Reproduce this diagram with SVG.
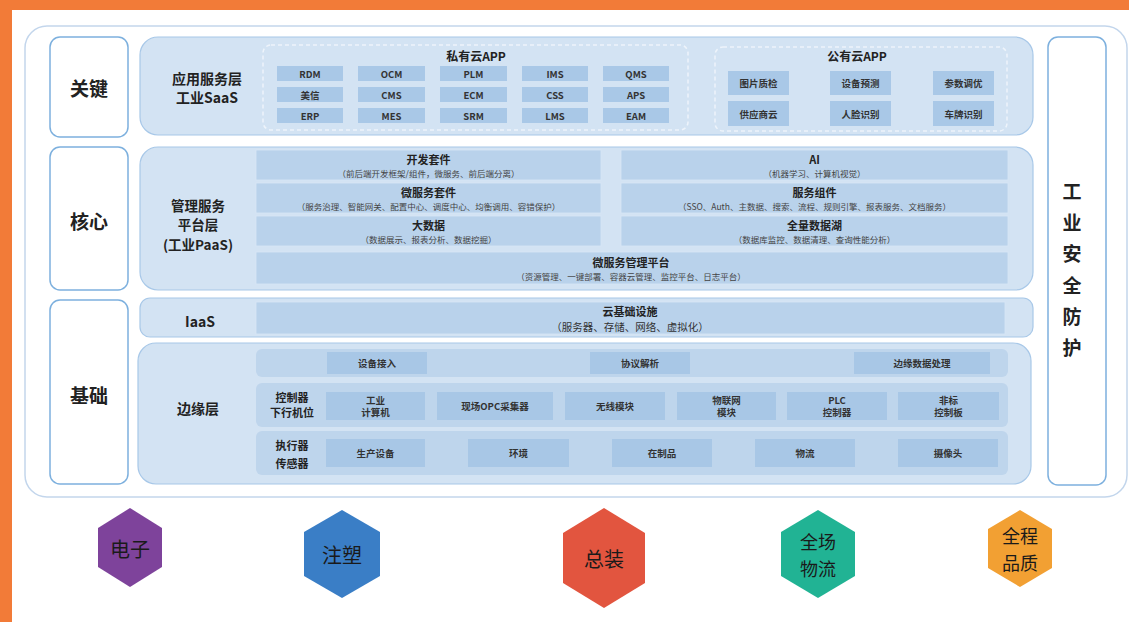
<svg xmlns="http://www.w3.org/2000/svg" width="1129" height="622" viewBox="0 0 1129 622">
<style>
text{font-family:"Noto Sans CJK SC","Noto Sans",sans-serif;text-anchor:middle;dominant-baseline:central;fill:#222}
.b{font-weight:bold}
.lbl{fill:#fff;stroke:#7db0de;stroke-width:1.5}
.panel{fill:#d3e3f3;stroke:#a8c8e8;stroke-width:1.2}
.cell{fill:#a9c8e7}
.ccell{fill:#b9d2eb;stroke:#d8e6f4;stroke-width:0.8}
.row{fill:#bed5ec}
.ecell{fill:#a8c7e6}
.t9{font-size:9.5px;font-weight:bold;fill:#333}
.t8{font-size:8.5px;fill:#444}
.tt{font-size:11px;font-weight:bold;fill:#222}
.big{font-size:19px;font-weight:bold}
.mid{font-size:14px;font-weight:bold}
.hx{font-size:20px;fill:#1a1a1a}
.hx2{font-size:18px;fill:#1a1a1a}
</style>
<rect x="0" y="0" width="1129" height="622" fill="#f27b38"/>
<rect x="12" y="10" width="1117" height="612" fill="#ffffff"/>
<rect x="25" y="26" width="1102" height="471" rx="22" fill="#fff" stroke="#c3d6ec" stroke-width="1.5"/>

<g id="label-guanjian"><rect class="lbl" x="50" y="37" width="78" height="100" rx="10"/><text class="big" x="89" y="87">关键</text></g>
<g id="label-hexin"><rect class="lbl" x="50" y="147" width="78" height="143" rx="10"/><text class="big" x="89" y="220">核心</text></g>
<g id="label-jichu"><rect class="lbl" x="50" y="300" width="78" height="184" rx="10"/><text class="big" x="89" y="394">基础</text></g>
<g id="label-security"><rect class="lbl" x="1048" y="37" width="58" height="448" rx="10"/>
<text class="big" x="1072" y="190">工</text><text class="big" x="1072" y="221">业</text><text class="big" x="1072" y="252">安</text><text class="big" x="1072" y="284">全</text><text class="big" x="1072" y="315">防</text><text class="big" x="1072" y="346">护</text></g>

<g id="saas">
<rect class="panel" x="140" y="37" width="893" height="98" rx="18"/>
<text class="mid" x="207" y="78">应用服务层</text><text class="mid" x="207" y="97">工业SaaS</text>
<rect x="263" y="45" width="425" height="85" rx="8" fill="none" stroke="#eef4fb" stroke-width="1.5" stroke-dasharray="4,3"/>
<text class="tt" style="font-size:12px" x="476" y="55">私有云APP</text>
<g>
<rect class="cell" x="277" y="66" width="66" height="15"/><text class="t9" x="310" y="73.5">RDM</text>
<rect class="cell" x="358" y="66" width="67" height="15"/><text class="t9" x="391.5" y="73.5">OCM</text>
<rect class="cell" x="440" y="66" width="67" height="15"/><text class="t9" x="473.5" y="73.5">PLM</text>
<rect class="cell" x="522" y="66" width="66" height="15"/><text class="t9" x="555" y="73.5">IMS</text>
<rect class="cell" x="603" y="66" width="66" height="15"/><text class="t9" x="636" y="73.5">QMS</text>
<rect class="cell" x="277" y="87" width="66" height="15"/><text class="t9" x="310" y="94.5">美信</text>
<rect class="cell" x="358" y="87" width="67" height="15"/><text class="t9" x="391.5" y="94.5">CMS</text>
<rect class="cell" x="440" y="87" width="67" height="15"/><text class="t9" x="473.5" y="94.5">ECM</text>
<rect class="cell" x="522" y="87" width="66" height="15"/><text class="t9" x="555" y="94.5">CSS</text>
<rect class="cell" x="603" y="87" width="66" height="15"/><text class="t9" x="636" y="94.5">APS</text>
<rect class="cell" x="277" y="108" width="66" height="15"/><text class="t9" x="310" y="115.5">ERP</text>
<rect class="cell" x="358" y="108" width="67" height="15"/><text class="t9" x="391.5" y="115.5">MES</text>
<rect class="cell" x="440" y="108" width="67" height="15"/><text class="t9" x="473.5" y="115.5">SRM</text>
<rect class="cell" x="522" y="108" width="66" height="15"/><text class="t9" x="555" y="115.5">LMS</text>
<rect class="cell" x="603" y="108" width="66" height="15"/><text class="t9" x="636" y="115.5">EAM</text>
</g>
<rect x="715" y="47" width="292" height="84" rx="8" fill="none" stroke="#eef4fb" stroke-width="1.5" stroke-dasharray="4,3"/>
<text class="tt" style="font-size:12px" x="857" y="55">公有云APP</text>
<rect class="cell" x="728" y="71" width="61" height="24"/><text class="t9" x="758.5" y="83">图片质检</text>
<rect class="cell" x="830" y="71" width="61" height="24"/><text class="t9" x="860.5" y="83">设备预测</text>
<rect class="cell" x="933" y="71" width="61" height="24"/><text class="t9" x="963.5" y="83">参数调优</text>
<rect class="cell" x="728" y="101" width="61" height="25"/><text class="t9" x="758.5" y="113.5">供应商云</text>
<rect class="cell" x="830" y="101" width="61" height="25"/><text class="t9" x="860.5" y="113.5">人脸识别</text>
<rect class="cell" x="933" y="101" width="61" height="25"/><text class="t9" x="963.5" y="113.5">车牌识别</text>
</g>

<g id="paas">
<rect class="panel" x="140" y="147" width="893" height="143" rx="18"/>
<text class="mid" style="font-size:13.5px" x="198" y="205">管理服务</text><text class="mid" style="font-size:13.5px" x="198" y="224">平台层</text><text class="mid" style="font-size:13.5px" x="198" y="244">(工业PaaS)</text>
<rect class="ccell" x="256" y="150" width="345" height="30"/><text class="tt" x="428.5" y="159">开发套件</text><text class="t8" x="428.5" y="173">（前后端开发框架/组件，微服务、前后端分离）</text>
<rect class="ccell" x="256" y="183" width="345" height="30"/><text class="tt" x="428.5" y="192">微服务套件</text><text class="t8" x="428.5" y="206">（服务治理、智能网关、配置中心、调度中心、均衡调用、容错保护）</text>
<rect class="ccell" x="256" y="216" width="345" height="30"/><text class="tt" x="428.5" y="225">大数据</text><text class="t8" x="428.5" y="239">（数据展示、报表分析、数据挖掘）</text>
<rect class="ccell" x="621" y="150" width="387" height="30"/><text class="tt" x="814.5" y="159">AI</text><text class="t8" x="814.5" y="173">（机器学习、计算机视觉）</text>
<rect class="ccell" x="621" y="183" width="387" height="30"/><text class="tt" x="814.5" y="192">服务组件</text><text class="t8" x="814.5" y="206">（SSO、Auth、主数据、搜索、流程、规则引擎、报表服务、文档服务）</text>
<rect class="ccell" x="621" y="216" width="387" height="30"/><text class="tt" x="814.5" y="225">全量数据湖</text><text class="t8" x="814.5" y="239">（数据库监控、数据清理、查询性能分析）</text>
<rect class="ccell" x="256" y="252" width="752" height="32"/><text class="tt" x="631" y="262">微服务管理平台</text><text class="t8" x="631" y="276">（资源管理、一键部署、容器云管理、监控平台、日志平台）</text>
</g>

<g id="iaas">
<rect class="panel" x="140" y="298" width="893" height="39" rx="10"/>
<text class="mid" x="200" y="321">IaaS</text>
<rect class="ccell" x="256" y="302" width="749" height="32"/>
<text class="tt" x="630" y="311">云基础设施</text><text style="font-size:10.5px;fill:#333" x="630" y="326">（服务器、存储、网络、虚拟化）</text>
</g>

<g id="edge">
<rect class="panel" x="138" y="343" width="893" height="141" rx="18"/>
<text class="mid" x="198" y="408">边缘层</text>
<rect class="row" x="256" y="349" width="752" height="28" rx="6"/>
<rect class="ecell" x="327" y="352" width="100" height="22"/><text class="t9" x="377" y="363">设备接入</text>
<rect class="ecell" x="590" y="352" width="100" height="22"/><text class="t9" x="640" y="363">协议解析</text>
<rect class="ecell" x="854" y="352" width="136" height="22"/><text class="t9" x="922" y="363">边缘数据处理</text>
<rect class="row" x="256" y="383" width="752" height="44" rx="6"/>
<text class="tt" x="292" y="397">控制器</text><text class="tt" x="292" y="412">下行机位</text>
<rect class="ecell" x="326" y="392" width="99" height="28"/><text class="t9" x="375.5" y="400">工业</text><text class="t9" x="375.5" y="412">计算机</text>
<rect class="ecell" x="437" y="392" width="116" height="28"/><text class="t9" x="495" y="406">现场OPC采集器</text>
<rect class="ecell" x="565" y="392" width="100" height="28"/><text class="t9" x="615" y="406">无线模块</text>
<rect class="ecell" x="677" y="392" width="99" height="28"/><text class="t9" x="726.5" y="400">物联网</text><text class="t9" x="726.5" y="412">模块</text>
<rect class="ecell" x="787" y="392" width="100" height="28"/><text class="t9" x="837" y="400">PLC</text><text class="t9" x="837" y="412">控制器</text>
<rect class="ecell" x="898" y="392" width="101" height="28"/><text class="t9" x="948.5" y="400">非标</text><text class="t9" x="948.5" y="412">控制板</text>
<rect class="row" x="256" y="431" width="752" height="44" rx="6"/>
<text class="tt" x="292" y="445">执行器</text><text class="tt" x="292" y="463">传感器</text>
<rect class="ecell" x="326" y="439" width="99" height="28"/><text class="t9" x="375.5" y="453">生产设备</text>
<rect class="ecell" x="468" y="439" width="101" height="28"/><text class="t9" x="518.5" y="453">环境</text>
<rect class="ecell" x="612" y="439" width="100" height="28"/><text class="t9" x="662" y="453">在制品</text>
<rect class="ecell" x="755" y="439" width="100" height="28"/><text class="t9" x="805" y="453">物流</text>
<rect class="ecell" x="898" y="439" width="100" height="28"/><text class="t9" x="948" y="453">摄像头</text>
</g>

<g id="hex-dianzi"><polygon points="130,508 162,528 162,567 130,587 98,567 98,528" fill="#7e439b"/><text class="hx" x="130" y="548">电子</text></g>
<g id="hex-zhusu"><polygon points="342,510 380,532 380,576 342,598 304,576 304,532" fill="#3a7ec6"/><text class="hx" x="342" y="554">注塑</text></g>
<g id="hex-zongzhuang"><polygon points="604,508 645,533 645,583 604,608 563,583 563,533" fill="#e2553f"/><text class="hx" x="604" y="558">总装</text></g>
<g id="hex-wuliu"><polygon points="818,510 855,532 855,576 818,598 781,576 781,532" fill="#21b394"/><text class="hx2" x="818" y="541">全场</text><text class="hx2" x="818" y="568">物流</text></g>
<g id="hex-pinzhi"><polygon points="1020,510 1052,529 1052,568 1020,587 988,568 988,529" fill="#f2a033"/><text class="hx2" x="1020" y="535">全程</text><text class="hx2" x="1020" y="562">品质</text></g>
</svg>
